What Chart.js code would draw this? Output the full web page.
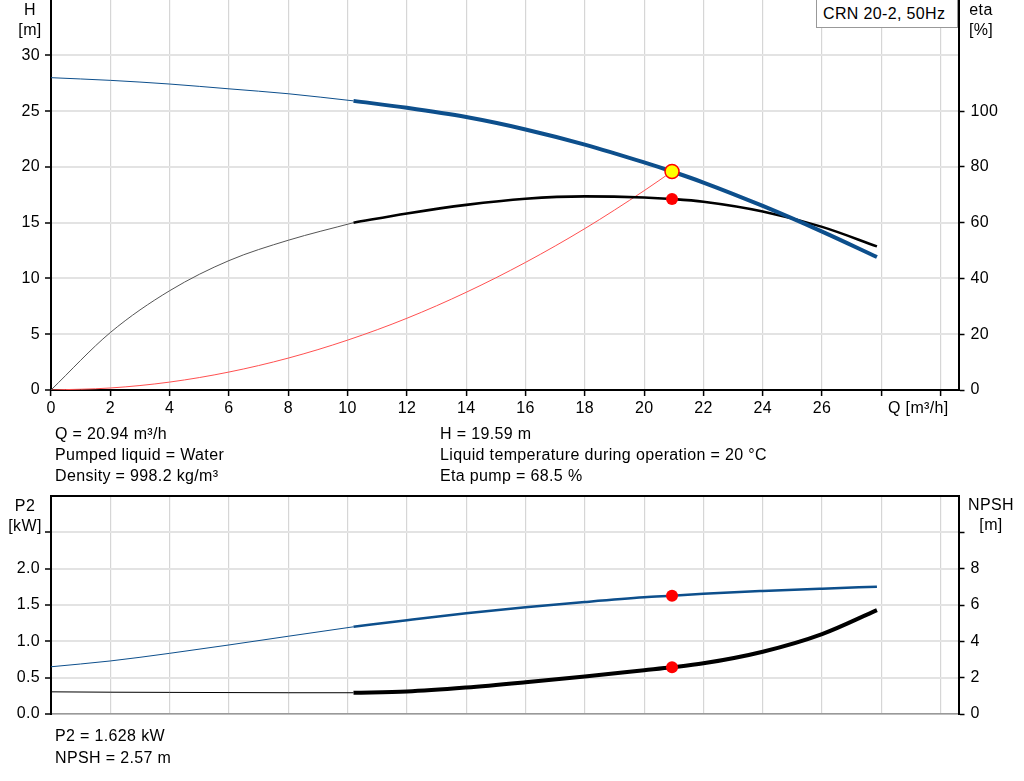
<!DOCTYPE html>
<html>
<head>
<meta charset="utf-8">
<script src="https://cdn.jsdelivr.net/npm/chart.js@4.4.1/dist/chart.umd.min.js"></script>
<style>
  html, body { margin:0; padding:0; background:#fff; overflow:hidden; }
  body { width:1024px; height:781px; position:relative; font-family:"Liberation Sans", Arial, sans-serif; font-size:16px; letter-spacing:0.35px; color:#000; }
  canvas { position:absolute; left:0; }
  .t { position:absolute; line-height:21px; white-space:nowrap; }
  .c { text-align:center; line-height:20px; }
  #legend { position:absolute; left:816px; top:-1px; width:142px; height:29px; border:1px solid #999; background:#fff; box-sizing:border-box; padding-left:6px; line-height:27px; white-space:nowrap; }
</style>
</head>
<body>
<canvas id="top" width="1024" height="420" style="top:0"></canvas>
<canvas id="bot" width="1024" height="260" style="top:480px"></canvas>

<div id="legend">CRN 20-2, 50Hz</div>
<div class="t c" style="left:5px;top:0px;width:50px">H<br>[m]</div>
<div class="t c" style="left:956px;top:0px;width:50px">eta<br>[%]</div>
<div class="t" style="left:888px;top:397px">Q [m³/h]</div>
<div class="t" style="left:55px;top:423px">Q = 20.94 m³/h<br>Pumped liquid = Water<br>Density = 998.2 kg/m³</div>
<div class="t" style="left:440px;top:423px">H = 19.59 m<br>Liquid temperature during operation = 20 °C<br>Eta pump = 68.5 %</div>
<div class="t c" style="left:0px;top:496px;width:50px">P2<br>[kW]</div>
<div class="t c" style="left:964px;top:495px;width:54px">NPSH<br>[m]</div>
<div class="t" style="left:55px;top:725px;line-height:21.5px">P2 = 1.628 kW<br>NPSH = 2.57 m</div>

<script>
// ---- data ----
const flow   = [0, 2, 4, 6, 8, 10.2, 12, 14, 16, 18, 20, 20.94, 22, 24, 26, 27.85];   // Q [m³/h]
const head   = [28.0, 27.76, 27.43, 27.0, 26.56, 25.92, 25.3, 24.47, 23.36, 22.0, 20.4, 19.59, 18.6, 16.5, 14.2, 11.92]; // H [m]
const etaPump= [0, 20.6, 35.6, 46.4, 53.7, 60.0, 63.3, 66.4, 68.6, 69.45, 69.05, 68.5, 67.5, 64.0, 58.5, 51.5]; // eta [%]
const power  = [0.65, 0.73, 0.835, 0.95, 1.07, 1.20, 1.29, 1.385, 1.468, 1.54, 1.605, 1.628, 1.655, 1.693, 1.725, 1.752]; // P2 [kW]
const npsh   = [1.22, 1.20, 1.19, 1.18, 1.17, 1.17, 1.24, 1.46, 1.75, 2.07, 2.41, 2.57, 2.79, 3.43, 4.40, 5.72]; // NPSH [m]
const sysFlow = [0, 2, 4, 6, 8, 10, 12, 14, 16, 18, 20, 20.94];
const sysHead = [0, 0.18, 0.71, 1.61, 2.86, 4.47, 6.43, 8.76, 11.44, 14.47, 17.87, 19.59];
const dutyQ = 20.94, dutyH = 19.59, dutyEta = 68.5, dutyP2 = 1.628, dutyNpsh = 2.57;
const thickFrom = 10.2;   // curves are drawn thin below this flow
const xTicks = [0, 2, 4, 6, 8, 10, 12, 14, 16, 18, 20, 22, 24, 26];  // labelled Q ticks

const pts = (xs, ys) => xs.map((x, i) => ({x, y: ys[i]}));
const thin  = ys => pts(flow, ys).filter(p => p.x <= thickFrom);
const thick = ys => pts(flow, ys).filter(p => p.x >= thickFrom);

const BLUE = '#0d4f8c';
const FONT = {family: '"Liberation Sans", Arial, sans-serif', size: 16};
const VGRID = '#d6d6d6', HGRID = '#e3e3e3';
Chart.defaults.color = '#000';
Chart.defaults.font = FONT;

const lineDs = (data, color, width, axis) => ({
  data, borderColor: color, borderWidth: width, pointRadius: 0, showLine: true,
  fill: false, tension: 0.4, cubicInterpolationMode: 'monotone', yAxisID: axis
});
const dotDs = (x, y, axis, fillC, borderC, r, bw) => ({
  data: [{x, y}], showLine: false, pointRadius: r, pointBackgroundColor: fillC,
  pointBorderColor: borderC, pointBorderWidth: bw, yAxisID: axis
});
const xScale = (extra) => Object.assign({
  type: 'linear', min: 0, max: 30.6,
  ticks: {stepSize: 2, includeBounds: false, maxRotation: 0, autoSkip: false, padding: 3,
          callback: v => xTicks.includes(v) ? String(v) : ''},
  grid: {color: VGRID, lineWidth: 1.2, tickColor: '#000', tickLength: 6, tickWidth: 1.5},
  border: {color: '#000', width: 2}
}, extra);

// ---------- upper chart: H and eta ----------
const topConfig = {
  type: 'scatter',
  data: { datasets: [
    dotDs(dutyQ, dutyH, 'yH', '#ffff00', '#ff0000', 7, 1.5),
    dotDs(dutyQ, dutyEta, 'yE', '#ff0000', '#ff0000', 6, 0),
    lineDs(thick(head), BLUE, 4, 'yH'),
    lineDs(thin(head), BLUE, 1, 'yH'),
    lineDs(thick(etaPump), '#000', 2.6, 'yE'),
    lineDs(thin(etaPump), '#555', 1, 'yE'),
    lineDs(pts(sysFlow, sysHead), '#ff5050', 1, 'yH')
  ]},
  options: {
    responsive: false, maintainAspectRatio: false, animation: false, events: [],
    layout: {padding: 0},
    plugins: {legend: {display: false}, tooltip: {enabled: false}},
    scales: {
      x: xScale({afterFit: s => { s.height = 30; }}),
      yH: {
        type: 'linear', position: 'left', min: 0, max: 35,
        ticks: {stepSize: 5, padding: 5, callback: v => v > 30 ? null : String(v)},
        grid: {color: HGRID, lineWidth: 2, tickColor: '#000', tickLength: 6, tickWidth: 1.5},
        border: {color: '#000', width: 2},
        afterFit: s => { s.width = 51; }
      },
      yE: {
        type: 'linear', position: 'right', min: 0, max: 140,
        ticks: {stepSize: 20, padding: 6, callback: v => v > 100 ? null : String(v)},
        grid: {drawOnChartArea: false, tickColor: '#000', tickLength: 6, tickWidth: 1.5},
        border: {color: '#000', width: 2},
        afterFit: s => { s.width = 1024 - 958.5; }
      }
    }
  }
};
// first pass measures the automatic top padding, second pass compensates it (layout only)
const topCanvas = document.getElementById('top');
let topChart = new Chart(topCanvas, topConfig);
const off = Math.round(topChart.chartArea.top);
if (off > 0) {
  topChart.destroy();
  topCanvas.width = 1024;
  topCanvas.height = 420 + off;
  topCanvas.style.width = '1024px';
  topCanvas.style.height = (420 + off) + 'px';
  topCanvas.style.top = (-off) + 'px';
  topChart = new Chart(topCanvas, topConfig);
}

// ---------- lower chart: P2 and NPSH ----------
new Chart(document.getElementById('bot'), {
  type: 'scatter',
  data: { datasets: [
    dotDs(dutyQ, dutyP2, 'yP', '#ff0000', '#ff0000', 6, 0),
    dotDs(dutyQ, dutyNpsh, 'yN', '#ff0000', '#ff0000', 6, 0),
    lineDs(thick(power), BLUE, 2.5, 'yP'),
    lineDs(thin(power), BLUE, 1, 'yP'),
    lineDs(thick(npsh), '#000', 4, 'yN'),
    lineDs(thin(npsh), '#000', 1, 'yN')
  ]},
  options: {
    responsive: false, maintainAspectRatio: false, animation: false, events: [],
    layout: {padding: 0},
    plugins: {legend: {display: false}, tooltip: {enabled: false}},
    scales: {
      x: xScale({
        ticks: {display: false, stepSize: 2, includeBounds: false},
        grid: {color: VGRID, lineWidth: 1.2, drawTicks: false},
        border: {color: '#999', width: 1.5},
        afterFit: s => { s.height = 26; }
      }),
      xTop: {
        type: 'linear', position: 'top', min: 0, max: 30.6,
        ticks: {display: false},
        grid: {drawOnChartArea: false, drawTicks: false},
        border: {color: '#000', width: 2},
        afterFit: s => { s.height = 16; }
      },
      yP: {
        type: 'linear', position: 'left', min: 0, max: 3,
        ticks: {stepSize: 0.5, padding: 5,
                callback: v => v > 2.9 ? null : (v > 2.1 ? '' : v.toFixed(1))},
        grid: {color: HGRID, lineWidth: 2, tickColor: '#000', tickLength: 6, tickWidth: 1.5},
        border: {color: '#000', width: 2},
        afterFit: s => { s.width = 51; }
      },
      yN: {
        type: 'linear', position: 'right', min: 0, max: 12,
        ticks: {stepSize: 2, padding: 6,
                callback: v => v > 11 ? null : (v > 9 ? '' : String(v))},
        grid: {drawOnChartArea: false, tickColor: '#000', tickLength: 6, tickWidth: 1.5},
        border: {color: '#000', width: 2},
        afterFit: s => { s.width = 1024 - 958.5; }
      }
    }
  }
});
</script>
</body>
</html>
